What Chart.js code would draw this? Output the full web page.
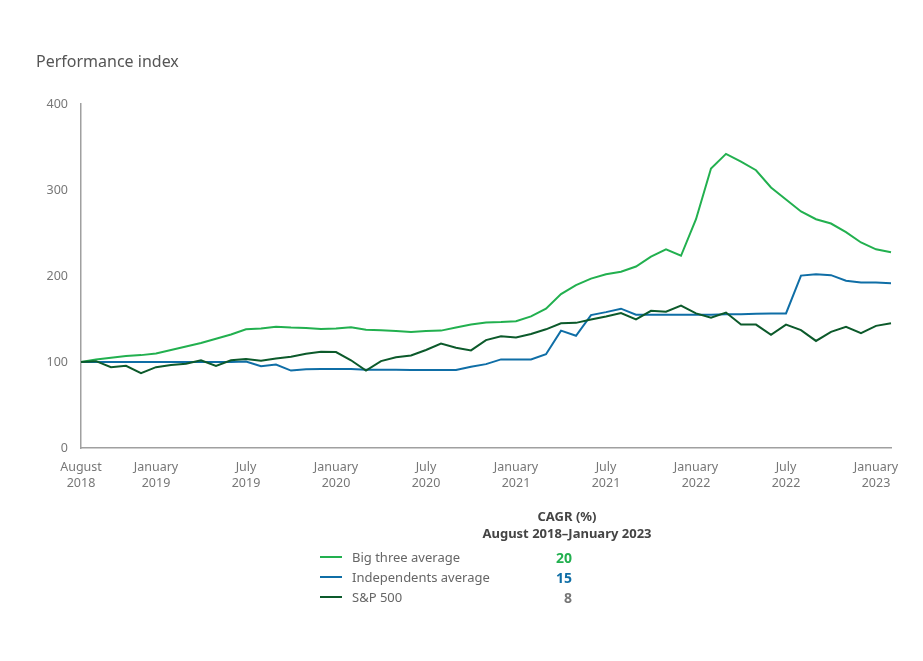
<!DOCTYPE html>
<html>
<head>
<meta charset="utf-8">
<script src="https://cdn.jsdelivr.net/npm/chart.js"></script>
<style>
  body { margin: 0; background: #fff; font-family: "Noto Sans", sans-serif; }
  #wrap { position: relative; width: 923px; height: 661px; }
  #title { position: absolute; left: 36px; top: 50px; font-size: 16px; color: #555; }
  .hd { position: absolute; width: 300px; left: 417px; text-align: center; font-size: 13px; font-weight: bold; color: #444; }
  .row { position: absolute; left: 320px; height: 18px; width: 260px; font-size: 13px; color: #666; }
  .row .ln { position: absolute; left: 0; top: 8px; width: 22px; height: 2px; }
  .row .tx { position: absolute; left: 32px; top: 0; }
  .row .val { position: absolute; right: 8px; top: 0; font-weight: bold; font-size: 14px; }
</style>
</head>
<body>
<div id="wrap">
  <canvas id="chart" width="923" height="661"></canvas>
  <div id="title">Performance index</div>
  <div class="hd" style="top:507px">CAGR (%)</div>
  <div class="hd" style="top:524px">August 2018–January 2023</div>
  <div id="legend"></div>
</div>
<script>
document.addEventListener("DOMContentLoaded", () => {

    // 月次 (2018年8月〜2023年2月)
    const months = [
        "Aug 2018", "Sep 2018", "Oct 2018", "Nov 2018", "Dec 2018",
        "Jan 2019", "Feb 2019", "Mar 2019", "Apr 2019", "May 2019", "Jun 2019",
        "Jul 2019", "Aug 2019", "Sep 2019", "Oct 2019", "Nov 2019", "Dec 2019",
        "Jan 2020", "Feb 2020", "Mar 2020", "Apr 2020", "May 2020", "Jun 2020",
        "Jul 2020", "Aug 2020", "Sep 2020", "Oct 2020", "Nov 2020", "Dec 2020",
        "Jan 2021", "Feb 2021", "Mar 2021", "Apr 2021", "May 2021", "Jun 2021",
        "Jul 2021", "Aug 2021", "Sep 2021", "Oct 2021", "Nov 2021", "Dec 2021",
        "Jan 2022", "Feb 2022", "Mar 2022", "Apr 2022", "May 2022", "Jun 2022",
        "Jul 2022", "Aug 2022", "Sep 2022", "Oct 2022", "Nov 2022", "Dec 2022",
        "Jan 2023", "Feb 2023"
    ];

    const bigThree = [
        100, 103, 105, 107, 108, 110, 114, 118, 122, 127, 132,
        138, 139, 141, 140, 139.5, 138.5, 139, 140.5, 137.5, 137, 136, 135,
        136, 136.5, 140, 143.5, 146, 146.5, 147.5, 153, 162, 179, 189.5, 197,
        202, 205, 211, 222.5, 231, 223.5, 266, 325, 342, 333, 323, 303,
        289, 275, 266, 261, 251, 239, 231, 227.5
    ];

    const independents = [
        100, 100, 100, 100, 100, 100, 100, 100, 100, 100, 100,
        100.5, 95, 97, 90, 91.5, 92, 92, 92, 91, 91, 91, 90.7,
        90.7, 90.7, 90.7, 94.5, 97.5, 103, 103, 103, 109, 136.5, 130.5, 154.5,
        158, 162, 155, 155, 155, 155, 155, 155, 155.5, 155.5, 156, 156.5,
        156.5, 200.5, 202, 201, 194.5, 192.5, 192.5, 191.5
    ];

    const sp500 = [
        100, 101, 94, 95.5, 87, 94, 96.5, 98, 102, 95.5, 102,
        103.5, 101.5, 104, 106, 109.5, 112, 111.5, 102, 90, 101, 105.5, 107.5,
        114, 121.5, 116.5, 113.5, 125.5, 130, 128.5, 132.5, 138, 145, 145.5, 149.5,
        153, 157, 149.5, 159.5, 158.5, 165.5, 156.5, 151.5, 157.5, 143.5, 143.5, 131.5,
        143.5, 137, 124.5, 135, 141, 133.5, 142, 145
    ];

    // x軸に表示するラベル
    const axisLabels = {
        "Aug 2018": ["August", "2018"],
        "Jan 2019": ["January", "2019"],
        "Jul 2019": ["July", "2019"],
        "Jan 2020": ["January", "2020"],
        "Jul 2020": ["July", "2020"],
        "Jan 2021": ["January", "2021"],
        "Jul 2021": ["July", "2021"],
        "Jan 2022": ["January", "2022"],
        "Jul 2022": ["July", "2022"],
        "Jan 2023": ["January", "2023"]
    };

    const seriesNames = ["Big three average", "Independents average", "S&P 500"];
    const cagr = ["20", "15", "8"];
    const colors = ["#22b04f", "#0f6ea6", "#0c5a2b"];
    const valueColors = ["#22b04f", "#0f6ea6", "#777777"];

    // 凡例
    const legend = document.getElementById("legend");
    seriesNames.forEach((name, i) => {
        const row = document.createElement("div");
        row.className = "row";
        row.style.top = (548 + i * 20) + "px";
        row.innerHTML = '<div class="ln" style="background:' + colors[i] + '"></div>' +
            '<div class="tx">' + name.replace("&", "&amp;") + '</div>' +
            '<div class="val" style="color:' + valueColors[i] + '">' + cagr[i] + '</div>';
        legend.appendChild(row);
    });

    const line = (label, data, color, order) => ({
        label: label,
        data: data,
        borderColor: color,
        borderWidth: 2,
        pointRadius: 0,
        tension: 0,
        fill: false,
        order: order
    });

    const ctx = document.getElementById("chart").getContext("2d");

    new Chart(ctx, {
        type: "line",
        data: {
            labels: months,
            datasets: [
                line(seriesNames[0], bigThree, colors[0], 1),
                line(seriesNames[1], independents, colors[1], 2),
                line(seriesNames[2], sp500, colors[2], 0)
            ]
        },
        options: {
            responsive: false,
            animation: false,
            layout: { padding: { top: 104, right: 32, left: 0, bottom: 0 } },
            plugins: { legend: { display: false }, tooltip: { enabled: false } },
            scales: {
                x: {
                    grid: { display: false, drawTicks: false },
                    border: { display: true, color: "#a0a0a0", width: 1.5 },
                    afterFit: (s) => { s.height = 213; },
                    ticks: {
                        autoSkip: false,
                        maxRotation: 0,
                        padding: 11,
                        color: "#777",
                        font: { family: "Noto Sans", size: 12.5, lineHeight: 1.3 },
                        callback: (v, i) => axisLabels[months[i]] || ""
                    }
                },
                y: {
                    min: 0,
                    max: 400,
                    grid: { display: false, drawTicks: false },
                    border: { display: true, color: "#a0a0a0", width: 1.5 },
                    afterFit: (s) => { s.width = 81; },
                    ticks: {
                        stepSize: 100,
                        padding: 13,
                        color: "#777",
                        font: { family: "Noto Sans", size: 12.5 }
                    }
                }
            }
        }
    });
});
</script>
</body>
</html>
